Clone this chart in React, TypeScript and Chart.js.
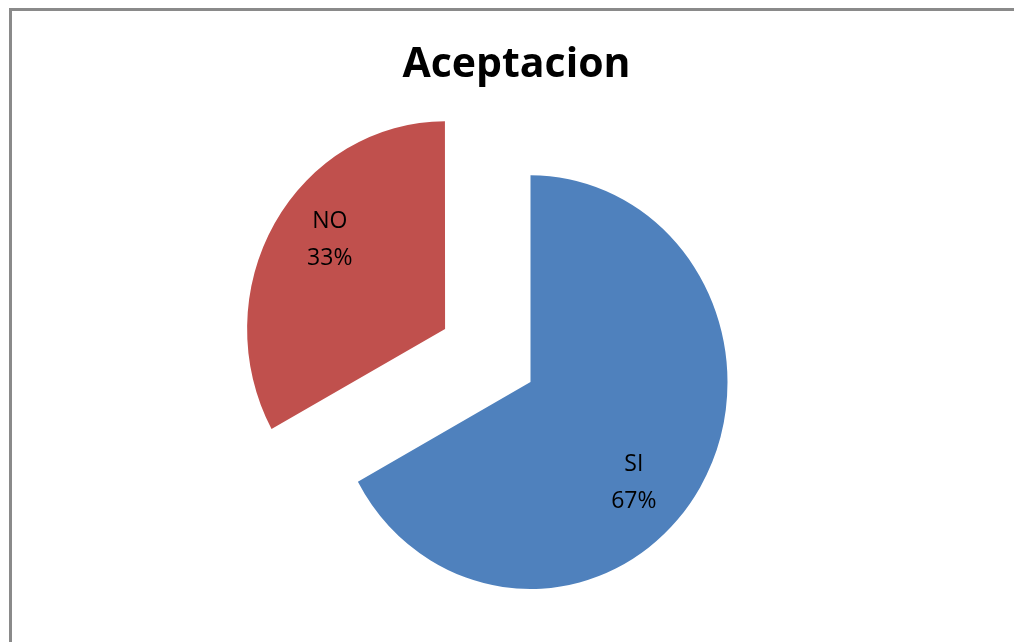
import React, { useEffect, useRef } from "react";
import { Chart, registerables } from "chart.js";

Chart.register(...registerables);

const titleText = "Aceptacion";
const categories = ["SI", "NO"];
const values = [67, 33];
const sliceColors = ["#4F81BD", "#C0504D"];
const explode = [0, 397];

const RADIUS = 197;
const Y_STRETCH = 1.05;
const LABEL_R = 0.72;
const LABEL_SHIFT = (9 * Math.PI) / 180;
const LABEL_DX = -6;
const LABEL_DY = 5;

const explodeFix = {
  id: "explodeFix",
  afterDatasetsUpdate(chart: any) {
    const meta = chart.getDatasetMeta(0);
    meta.data.forEach((arc: any, i: number) => {
      const off = (explode[i] || 0) / 4;
      if (!off) return;
      const circ = arc.endAngle - arc.startAngle;
      const fix = 1 - Math.sin(Math.min(Math.PI, circ));
      const ro = off * fix;
      arc.outerRadius = RADIUS - ro;
      const d = ro / Math.PI / RADIUS / 2;
      arc.startAngle -= d;
      arc.endAngle += d;
      arc.circumference = circ + 2 * d;
    });
  },
};

const stretchAndLabels = {
  id: "stretchAndLabels",
  beforeDatasetsDraw(chart: any) {
    const meta = chart.getDatasetMeta(0);
    const cy = meta.data[0].y;
    const ctx = chart.ctx;
    ctx.save();
    ctx.translate(0, cy);
    ctx.scale(1, Y_STRETCH);
    ctx.translate(0, -cy);
  },
  afterDatasetsDraw(chart: any) {
    const ctx = chart.ctx;
    ctx.restore();
    const meta = chart.getDatasetMeta(0);
    const total = values.reduce((a, b) => a + b, 0);
    ctx.save();
    ctx.fillStyle = "#000000";
    ctx.font = "23px 'Open Sans'";
    ctx.textAlign = "center";
    ctx.textBaseline = "middle";
    meta.data.forEach((arc: any, i: number) => {
      const mid = (arc.startAngle + arc.endAngle) / 2;
      const t = (explode[i] || 0) / 4;
      const a = mid + LABEL_SHIFT;
      const x = arc.x + Math.cos(mid) * t + Math.cos(a) * RADIUS * LABEL_R + LABEL_DX;
      const uy = Math.sin(mid) * t + Math.sin(a) * RADIUS * LABEL_R;
      const y = arc.y + uy * Y_STRETCH + LABEL_DY;
      ctx.fillText(categories[i], x, y - 18);
      ctx.fillText(Math.round((values[i] / total) * 100) + "%", x, y + 19);
    });
    ctx.restore();
  },
};

export default function App() {
  const ref = useRef<HTMLCanvasElement | null>(null);
  useEffect(() => {
    if (!ref.current) return;
    const chart = new Chart(ref.current, {
      type: "pie",
      data: {
        labels: categories,
        datasets: [
          {
            data: values,
            backgroundColor: sliceColors,
            borderWidth: 0,
            offset: explode,
            radius: RADIUS,
          } as any,
        ],
      },
      options: {
        responsive: false,
        animation: false,
        layout: { padding: { left: 19, right: 0, top: 0, bottom: 0 } },
        plugins: {
          legend: { display: false },
          tooltip: { enabled: false },
          title: {
            display: true,
            text: titleText,
            color: "#000000",
            font: { family: "'Open Sans'", size: 41, weight: "bold", lineHeight: 1.2 },
            padding: { top: 41, bottom: 0 },
          },
          subtitle: {
            display: true,
            position: "left",
            text: "",
            font: { size: 28, lineHeight: 1 },
            padding: { top: 0, bottom: 0 },
          },
        },
      } as any,
      plugins: [explodeFix, stretchAndLabels],
    });
    return () => chart.destroy();
  }, []);
  return (
    <div style={{ position: "fixed", left: 0, top: 0, width: 1014, height: 642, overflow: "hidden", background: "#ffffff" }}>
      <div
        style={{
          position: "absolute",
          left: 9,
          top: 8,
          width: 1100,
          height: 700,
          border: "3px solid #8a8a8a",
          boxSizing: "border-box",
        }}
      />
      <canvas
        ref={ref}
        width={1014}
        height={674}
        style={{ position: "absolute", left: 0, top: 0, width: 1014, height: 674 }}
      />
    </div>
  );
}
